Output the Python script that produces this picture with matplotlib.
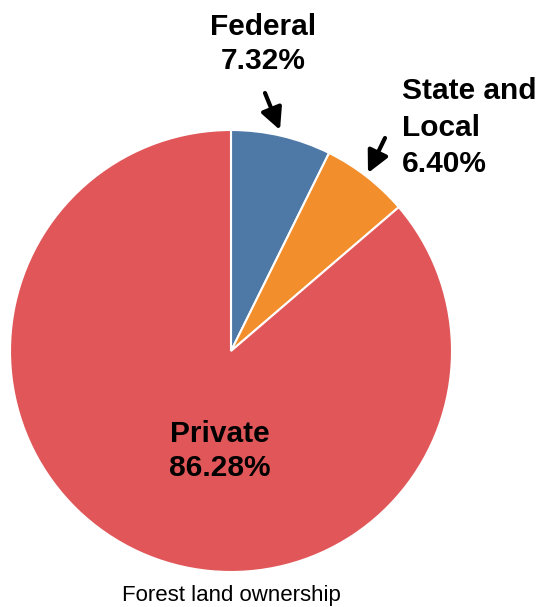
import matplotlib
matplotlib.use("Agg")
import matplotlib.pyplot as plt

# Forest land ownership shares (percent)
categories = ["Federal", "State and Local", "Private"]
shares = [7.32, 6.40, 86.28]
colors = ["#4e79a7", "#f28e2b", "#e15759"]
title = "Forest land ownership"

plt.rcParams["font.family"] = ["Liberation Sans", "DejaVu Sans"]

W, H = 538, 607
fig = plt.figure(figsize=(W / 100, H / 100), dpi=100)
ax = fig.add_axes([0, 0, 1, 1])

cx, cy, r = 231, H - 351, 221
ax.pie(shares, colors=colors, startangle=90, counterclock=False,
       center=(cx, cy), radius=r, frame=True,
       wedgeprops=dict(edgecolor="white", linewidth=1.5))
ax.set_xlim(0, W)
ax.set_ylim(0, H)
ax.set_aspect("equal")
ax.axis("off")

fs = 21.5
ax.text(263, H - 69, f"Federal\n{shares[0]:.2f}%", ha="center", va="baseline",
        fontsize=fs, fontweight="bold", linespacing=1.29)
ax.text(402, H - 172, f"State and\nLocal\n{shares[1]:.2f}%", ha="left", va="baseline",
        fontsize=fs, fontweight="bold", linespacing=1.38)
ax.text(220, H - 476, f"Private\n{shares[2]:.2f}%", ha="center", va="baseline",
        fontsize=fs, fontweight="bold", linespacing=1.29)

arrow = dict(arrowstyle="-|>,head_length=1.3,head_width=0.65", color="black", lw=3,
             shrinkA=0, shrinkB=0)
ax.annotate("", xy=(280, H - 130), xytext=(265, H - 93), arrowprops=arrow)
ax.annotate("", xy=(368, H - 173), xytext=(385, H - 138), arrowprops=arrow)

ax.text(cx, H - 596, title, ha="center", va="center", fontsize=16)

fig.savefig("out.png", dpi=100)
